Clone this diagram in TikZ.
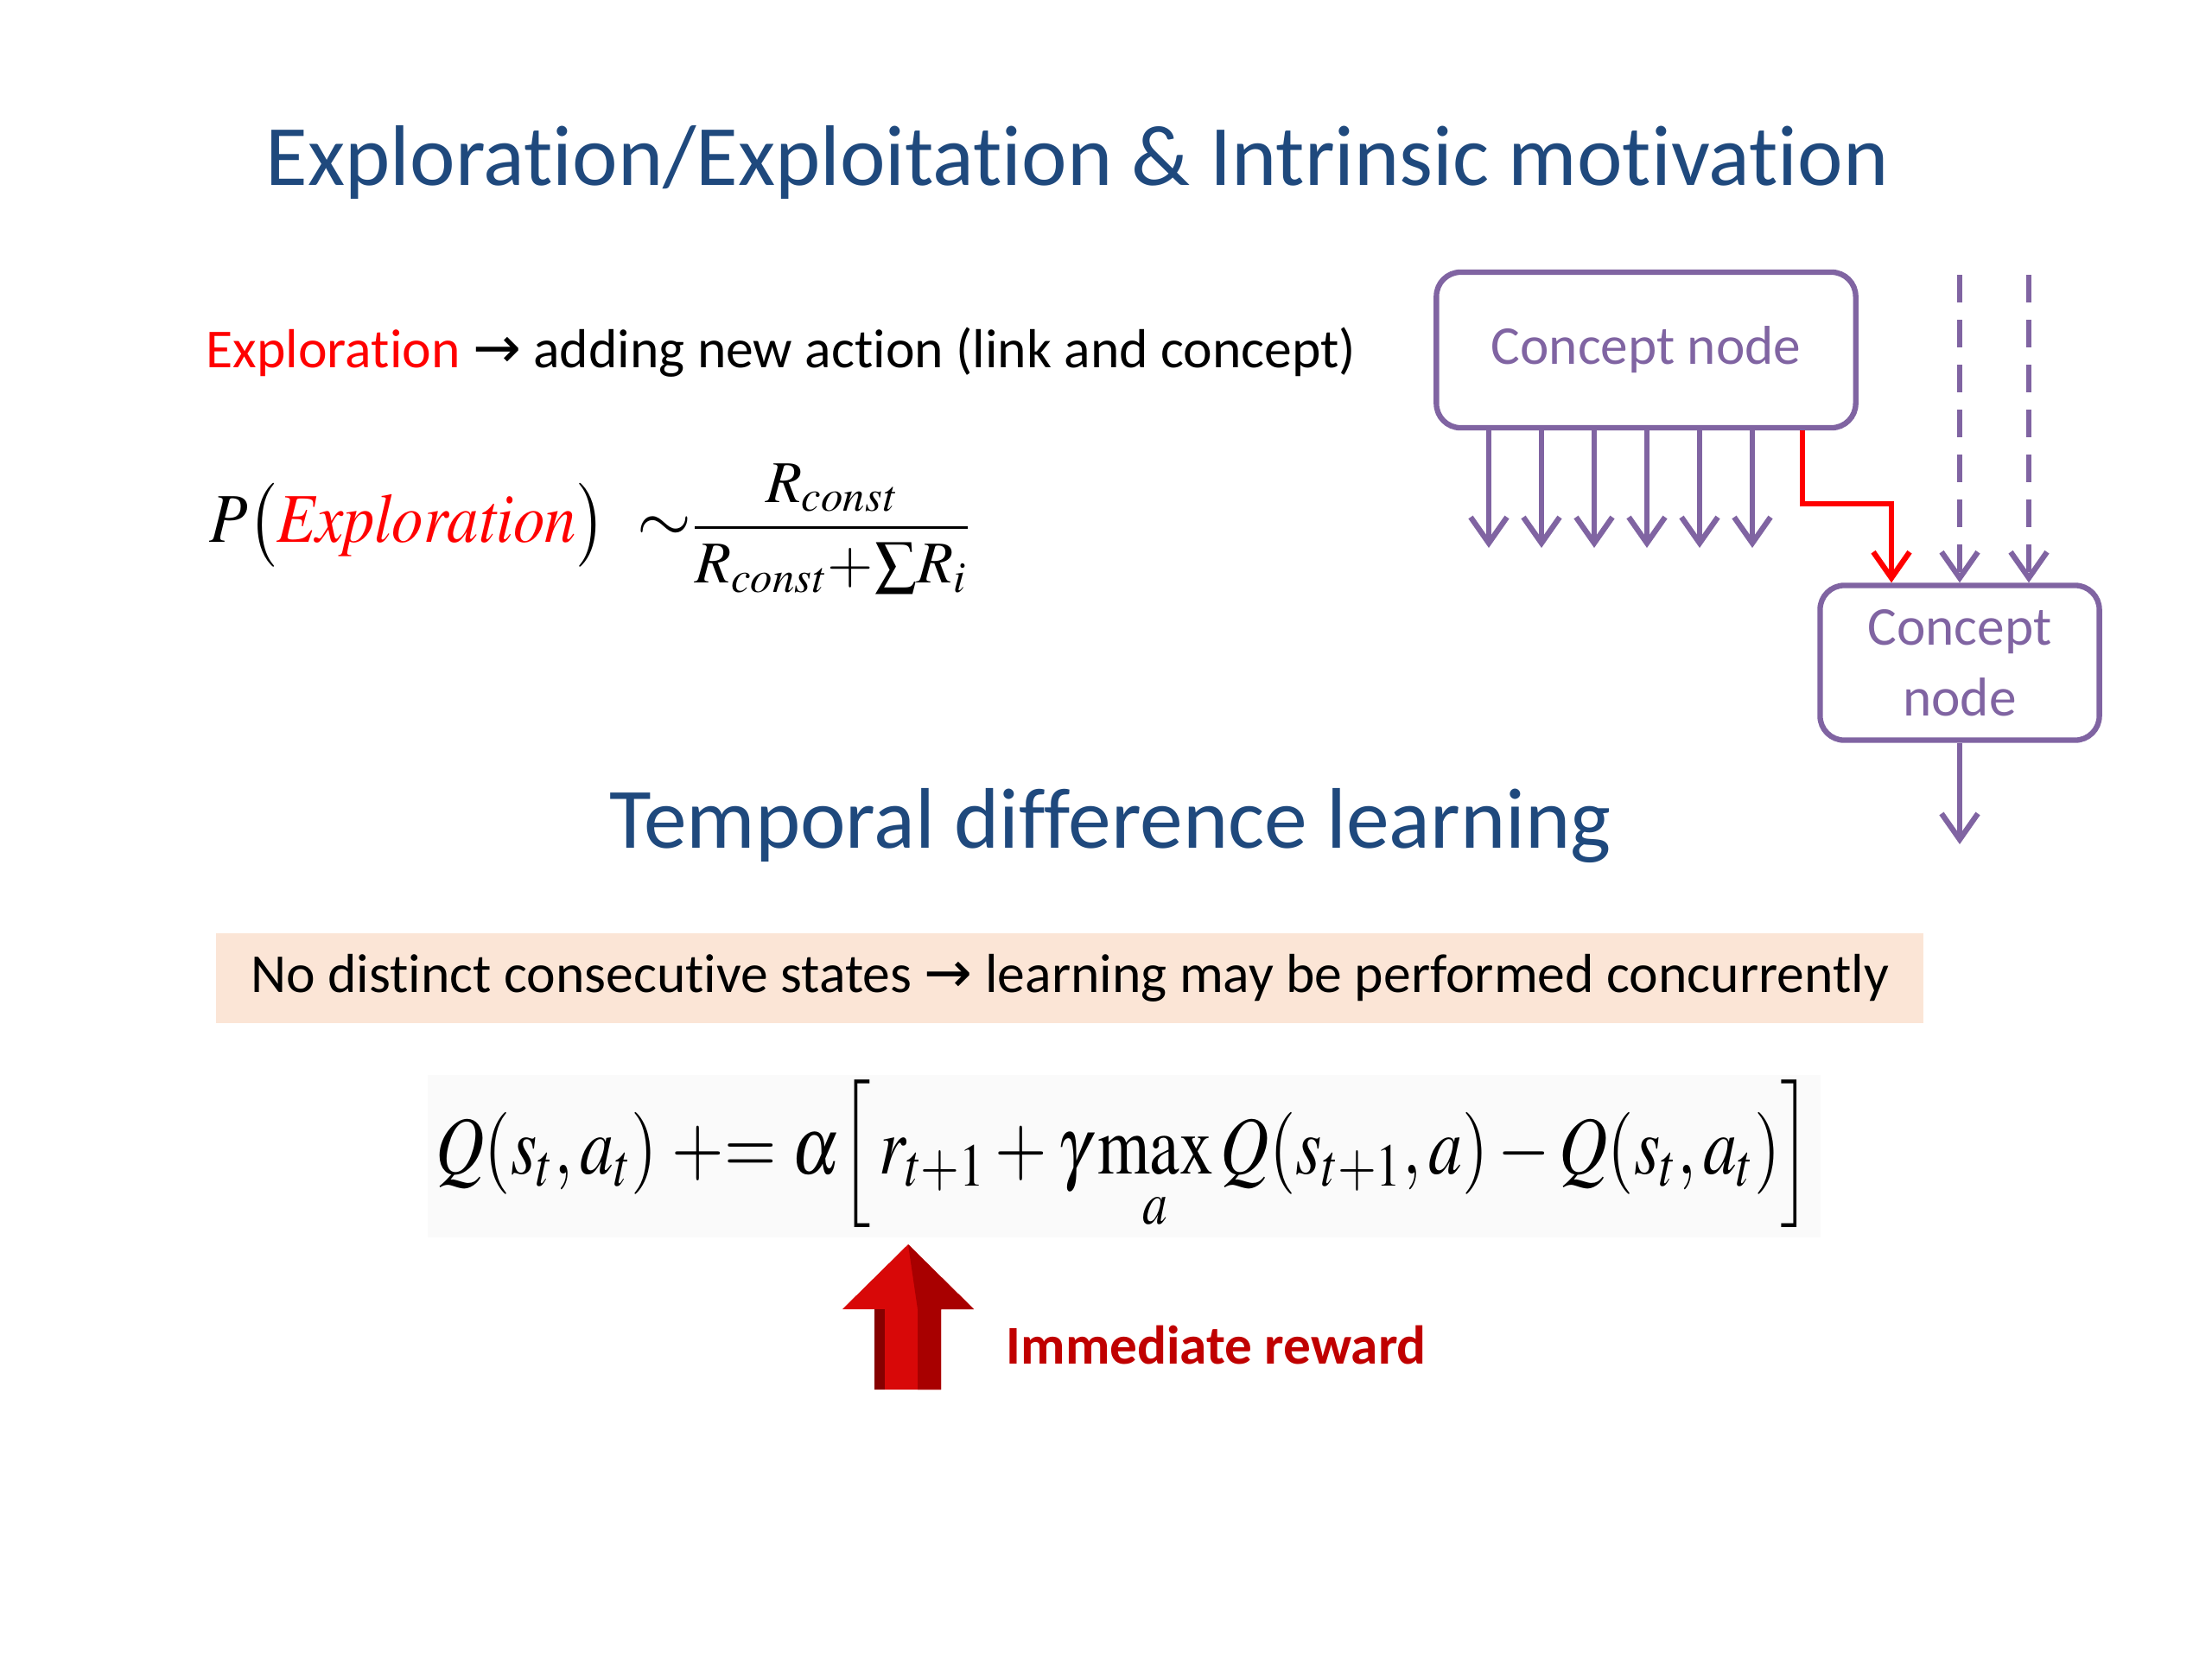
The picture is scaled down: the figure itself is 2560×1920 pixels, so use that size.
\documentclass[tikz,border=0pt]{standalone}
\usepackage{amsmath}
\usepackage{mathptmx}
\usepackage{graphicx}
\usepackage[no-math]{fontspec}
\setmainfont{Carlito}[Ligatures=NoCommon]
\newfontfamily\arrowfont{DejaVu Sans}
\usetikzlibrary{arrows.meta}

\definecolor{titleblue}{HTML}{1F497D}
\definecolor{conceptpurple}{HTML}{8064A2}
\definecolor{notebeige}{HTML}{FBE5D6}
\definecolor{rewardred}{HTML}{C00000}
\definecolor{arrowlight}{HTML}{D80808}
\definecolor{arrowdark}{HTML}{A80000}
\newcommand{\toarrow}{{\arrowfont\fontsize{19}{22}\selectfont →}}

\begin{document}
\begin{tikzpicture}[
        x=0.01cm, y=-0.01cm,
        heading/.style={text=titleblue, font=\fontsize{28.3}{33}\selectfont},
        bodytext/.style={font=\fontsize{18.1}{22}\selectfont, inner sep=0pt},
        concept/.style={rectangle, draw=conceptpurple, line width=1.8pt, rounded corners=0.28cm, text=conceptpurple, font=\fontsize{18}{23.5}\selectfont, align=center},
        link/.style={-{Straight Barb[length=0.3cm, width=0.42cm, line width=1.8pt]}, conceptpurple, line width=1.8pt},
        newlink/.style={link, red, rounded corners=0pt},
        dashlink/.style={link, dash pattern=on 0.32cm off 0.2cm}
        ]
        \useasboundingbox (0,0) rectangle (2560,1920);

        % top part: exploration
        \node (title) [heading] at (1247,188) {Exploration/Exploitation \& Intrinsic motivation};
        \node (expl) [bodytext, anchor=west] at (238,408) {\textcolor{red}{Exploration} \toarrow\ adding new action (link and concept)};
        \node (pexpl) [inner sep=0pt, anchor=west] at (242,612) {\fontsize{23}{28}\selectfont\scalebox{0.9}[1]{$P\bigl(\textcolor{red}{\mathit{Exploration}}\bigr)$}\ \ $\sim$\fontsize{19.5}{24}\selectfont$\dfrac{R_{\mathit{const}}}{R_{\mathit{const}}\!+\!\sum\! R_i}$};

        % concept nodes
        \node (cn1) [concept, minimum width=4.85cm, minimum height=1.8cm] at (1905,405) {Concept node};
        \node (cn2) [concept, minimum width=3.23cm, minimum height=1.79cm] at (2268,767) {Concept\\node};

        \foreach \i in {0,...,5} {
            \coordinate (out\i) at (1723+61*\i,634);
            \draw [link] (1723+61*\i,495) -- (out\i);
        }
        \coordinate (in1) at (2268,318);
        \coordinate (in2) at (2348,318);
        \coordinate (out) at (2268,977);
        \draw [newlink] (cn1.south -| 2086,0) |- (2189,583) -- (cn2.north -| 2189,0);
        \draw [dashlink] (in1) -- (cn2.north -| in1);
        \draw [dashlink] (in2) -- (cn2.north -| in2);
        \draw [link] (cn2) -- (out);

        % bottom part: temporal difference
        \node (tdl) [heading] at (1285,955) {Temporal difference learning};
        \node (note) [bodytext, fill=notebeige, minimum width=19.75cm, minimum height=1.03cm] at (1238,1132) {No distinct consecutive states \toarrow\ learning may be performed concurrently};
        \node (qrule) [fill=gray!4, minimum width=16.12cm, minimum height=1.88cm, inner sep=0pt] at (1301,1338)
            {\fontsize{27}{32}\selectfont\scalebox{0.82}[1]{$Q(s_t,a_t)\mathrel{+}=\alpha\Bigl[\,r_{t+1}+\gamma\max\limits_a Q(s_{t+1},a)-Q(s_t,a_t)\Bigr]$}};

        % red arrow to the reward term
        \coordinate (rtip) at (1051,1440);
        \fill [arrowlight] (rtip) -- (1127,1515) -- (1089,1515) -- (1089,1608) -- (1012,1608) -- (1012,1515) -- (975,1515) -- cycle;
        \fill [arrowdark] (rtip) -- (1127,1515) -- (1089,1515) -- (1089,1608) -- (1062,1608) -- (1062,1515) -- cycle;
        \fill [arrowdark!80!black] (1012,1515) -- (1024,1515) -- (1024,1608) -- (1012,1608) -- cycle;
        \node (rewardlbl) [bodytext, anchor=west, text=rewardred, font=\fontsize{18}{22}\selectfont\bfseries] at (1164,1556) {Immediate reward};
    \end{tikzpicture}
\end{document}
